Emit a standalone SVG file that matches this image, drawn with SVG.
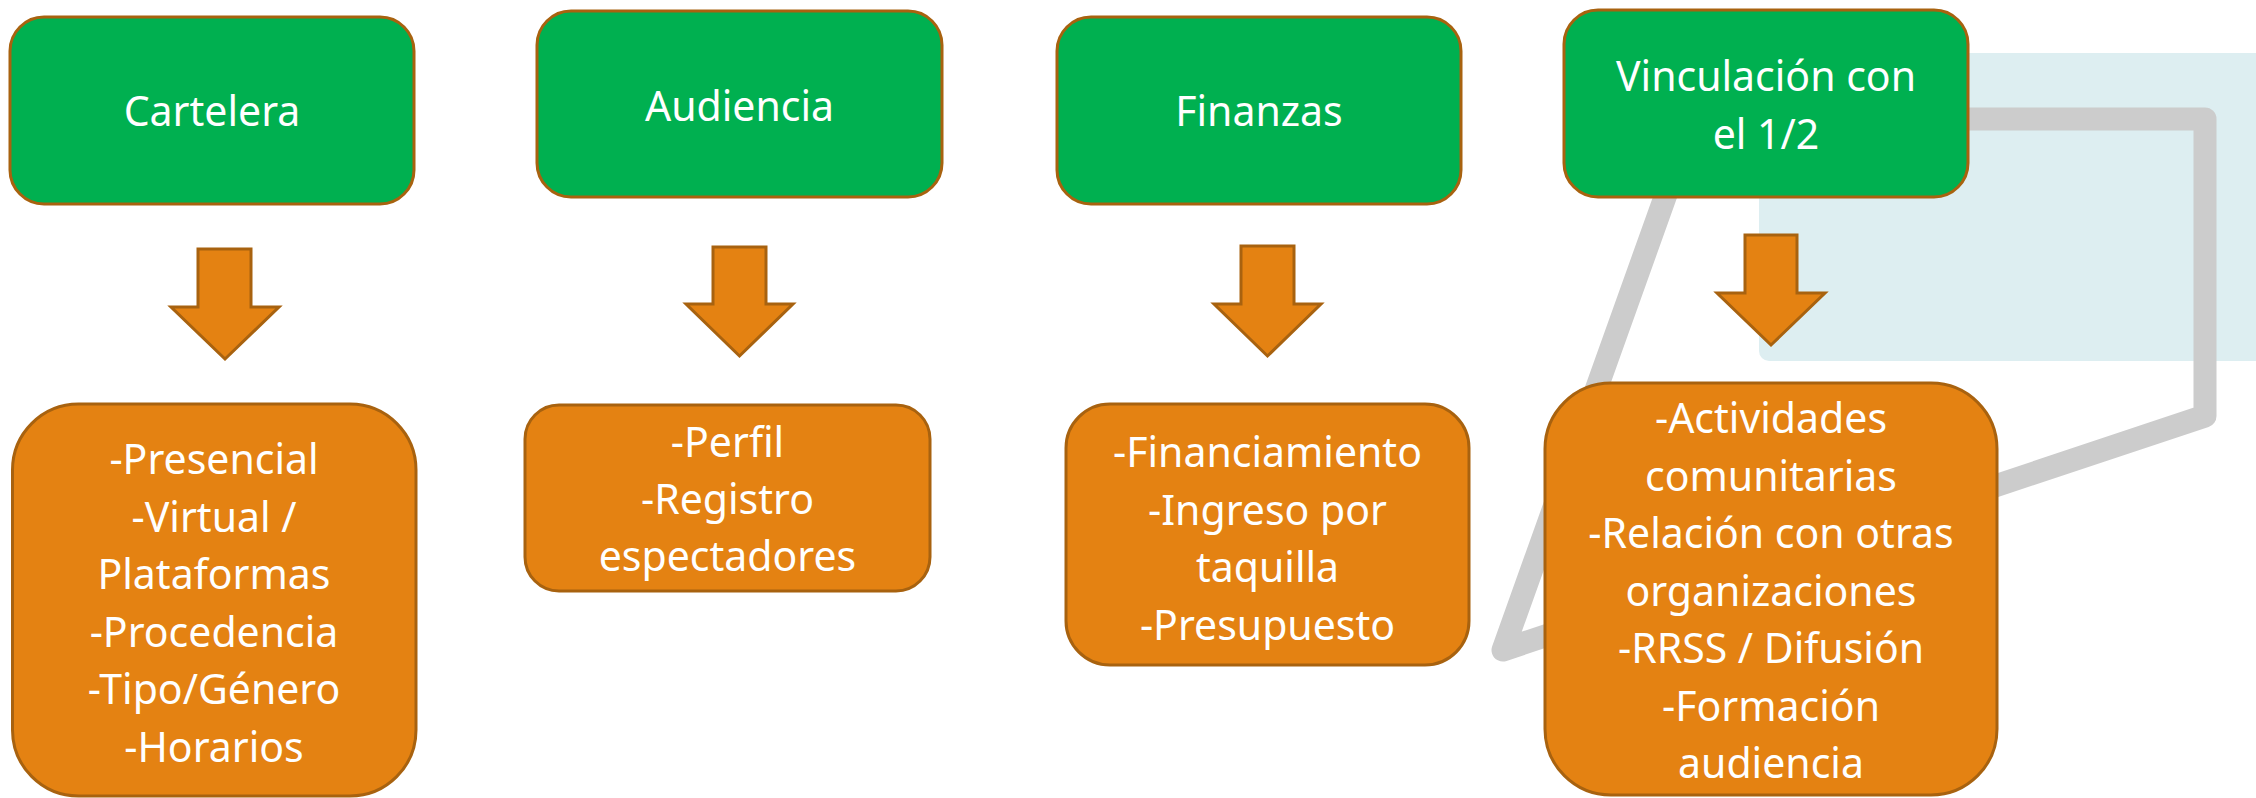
<svg xmlns="http://www.w3.org/2000/svg" width="2256" height="798" viewBox="0 0 2256 798">
<style>
.bg{fill:#FFFFFF}
.green{fill:#00B050;stroke:#A8620F;stroke-width:3}
.orange{fill:#E48212;stroke:#A8620F;stroke-width:3}
.arrow{fill:#E48212;stroke:#A8620F;stroke-width:3;stroke-linejoin:miter}
.t{font-family:"Noto Sans","Open Sans","Liberation Sans",sans-serif;font-size:41px;fill:#FFFFFF;text-anchor:middle}
</style>
<rect class="bg" x="0" y="0" width="2256" height="798"/>
<g id="background">
  <rect x="1759" y="53" width="520" height="308" rx="10" fill="#DDEEF1"/>
  <polygon points="1693,119 2205,119 2205,416 1503,650" fill="none" stroke="#CCCCCC" stroke-width="23" stroke-linejoin="round"/>
</g>
<g id="connectors">
  <polygon class="arrow" points="198,249 251,249 251,307 279,307 225,359 171,307 198,307"/>
  <polygon class="arrow" points="713,247 766,247 766,304 793,304 739.5,356 686,304 713,304"/>
  <polygon class="arrow" points="1241,246 1294,246 1294,304 1321,304 1267.5,356 1214,304 1241,304"/>
  <polygon class="arrow" points="1745,235 1797,235 1797,293 1825,293 1771,345 1717,293 1745,293"/>
</g>
<g id="cartelera">
  <rect class="green" x="10" y="17" width="404" height="187" rx="34"/>
  <text class="t" x="212" y="126">Cartelera</text>
</g>
<g id="audiencia">
  <rect class="green" x="537" y="11" width="405" height="186" rx="34"/>
  <text class="t" x="739.5" y="120.5">Audiencia</text>
</g>
<g id="finanzas">
  <rect class="green" x="1057" y="17" width="404" height="187" rx="34"/>
  <text class="t" x="1259" y="126">Finanzas</text>
</g>
<g id="vinculacion">
  <rect class="green" x="1564" y="10" width="404" height="187" rx="34"/>
  <text class="t" x="1766" y="91">Vinculación con</text>
  <text class="t" x="1766" y="149">el 1/2</text>
</g>
<g id="cartelera-items">
  <rect class="orange" x="12.5" y="404" width="403.5" height="392" rx="66"/>
  <text class="t" x="214" y="474">-Presencial</text>
  <text class="t" x="214" y="531.6">-Virtual /</text>
  <text class="t" x="214" y="589.2">Plataformas</text>
  <text class="t" x="214" y="646.8">-Procedencia</text>
  <text class="t" x="214" y="704.4">-Tipo/Género</text>
  <text class="t" x="214" y="762">-Horarios</text>
</g>
<g id="audiencia-items">
  <rect class="orange" x="525" y="405" width="405" height="186" rx="34"/>
  <text class="t" x="727.5" y="457">-Perfil</text>
  <text class="t" x="727.5" y="514">-Registro</text>
  <text class="t" x="727.5" y="571">espectadores</text>
</g>
<g id="finanzas-items">
  <rect class="orange" x="1066" y="404" width="403" height="261" rx="44"/>
  <text class="t" x="1267.5" y="467">-Financiamiento</text>
  <text class="t" x="1267.5" y="524.5">-Ingreso por</text>
  <text class="t" x="1267.5" y="582">taquilla</text>
  <text class="t" x="1267.5" y="639.5">-Presupuesto</text>
</g>
<g id="vinculacion-items">
  <rect class="orange" x="1545" y="383" width="452" height="412" rx="66"/>
  <text class="t" x="1771" y="433">-Actividades</text>
  <text class="t" x="1771" y="490.5">comunitarias</text>
  <text class="t" x="1771" y="548">-Relación con otras</text>
  <text class="t" x="1771" y="605.5">organizaciones</text>
  <text class="t" x="1771" y="663">-RRSS / Difusión</text>
  <text class="t" x="1771" y="720.5">-Formación</text>
  <text class="t" x="1771" y="778">audiencia</text>
</g>
</svg>
